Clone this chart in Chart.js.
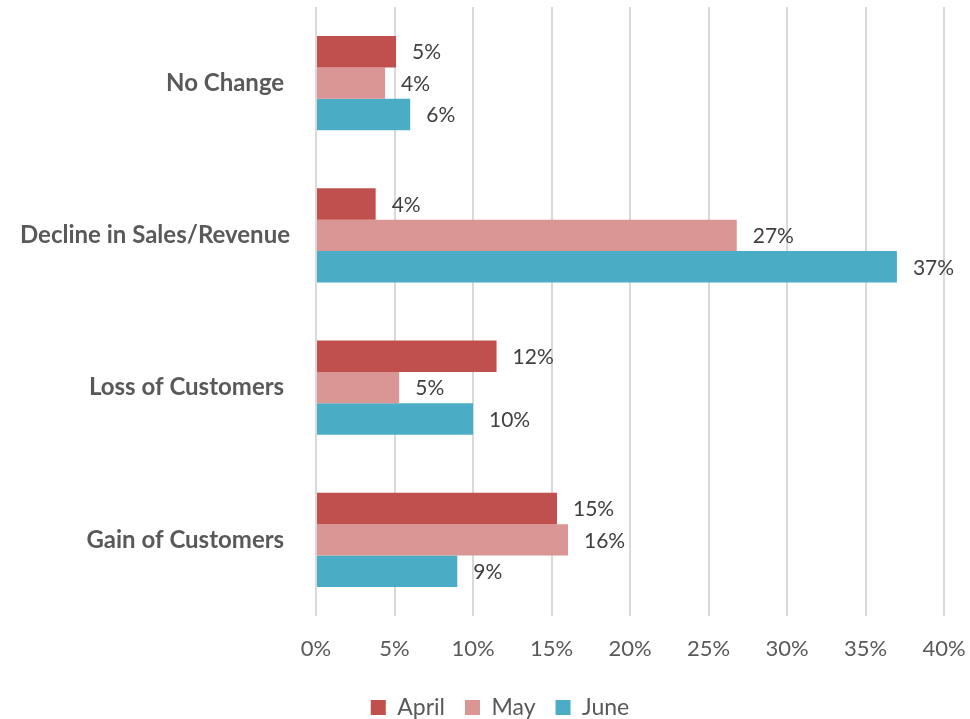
<!DOCTYPE html>
<html>
<head>
<meta charset="utf-8">
<script src="https://cdn.jsdelivr.net/npm/chart.js@4.4.0/dist/chart.umd.min.js"></script>
<style>
html,body{margin:0;padding:0;background:#fff;}
#wrap{width:970px;height:719px;position:relative;}
</style>
</head>
<body>
<div id="wrap"><canvas id="c"></canvas></div>
<script>
const categories = ['No Change ', 'Decline in Sales/Revenue', 'Loss of Customers ', 'Gain of Customers '];
const april = [5.1, 3.8, 11.5, 15.35];
const may = [4.4, 26.8, 5.3, 16.05];
const june = [6.0, 37.0, 10.0, 9.0];
const seriesNames = ['April', 'May', 'June'];
const xTicks = [0, 5, 10, 15, 20, 25, 30, 35, 40];

const FONT = 'Lato, "Liberation Sans", sans-serif';

const dataLabels = {
  id: 'dataLabels',
  afterDatasetsDraw(chart) {
    const ctx = chart.ctx;
    ctx.save();
    ctx.font = '21px ' + FONT;
    ctx.fillStyle = '#404040';
    ctx.textAlign = 'left';
    ctx.textBaseline = 'middle';
    chart.data.datasets.forEach((ds, i) => {
      const meta = chart.getDatasetMeta(i);
      meta.data.forEach((bar, j) => {
        ctx.fillText(Math.round(ds.data[j]) + '%', bar.x + 16, bar.y + 1);
      });
    });
    ctx.restore();
  }
};

const legendShift = {
  id: 'legendShift',
  afterLayout(chart) {
    const lg = chart.legend;
    if (!lg) return;
    const dx = 28, dy = 10;
    lg.left += dx; lg.right += dx;
    lg.top += dy; lg.bottom += dy;
  }
};

new Chart(document.getElementById('c'), {
  type: 'bar',
  data: {
    labels: categories,
    datasets: [
      { label: seriesNames[0], data: april, backgroundColor: '#C0504D' },
      { label: seriesNames[1], data: may, backgroundColor: '#D99694' },
      { label: seriesNames[2], data: june, backgroundColor: '#4BACC6' }
    ]
  },
  options: {
    indexAxis: 'y',
    responsive: true,
    maintainAspectRatio: false,
    animation: false,
    layout: { padding: { top: 7, right: 26, left: 0, bottom: 0 } },
    datasets: { bar: { categoryPercentage: 0.62, barPercentage: 1.0 } },
    scales: {
      x: {
        min: 0, max: 40,
        afterBuildTicks: s => { s.ticks = xTicks.map(v => ({ value: v })); },
        afterFit: s => { s.height = 50; s.paddingLeft = 0; s.paddingRight = 0; },
        grid: { color: '#D9D9D9', lineWidth: 2, drawTicks: false },
        border: { display: false },
        ticks: { callback: v => v + '%', color: '#595959', font: { family: FONT, size: 22 }, padding: 20 }
      },
      y: {
        grid: { display: false, drawTicks: false },
        border: { display: false },
        afterFit: s => { s.width = 316; s.paddingTop = 0; s.paddingBottom = 0; },
        ticks: { color: '#595959', font: { family: FONT, size: 24, weight: 'bold' }, padding: 26 }
      }
    },
    plugins: {
      legend: {
        position: 'bottom',
        labels: { color: '#595959', font: { family: FONT, size: 23 }, boxWidth: 15, boxHeight: 15, padding: 20 }
      },
      tooltip: { enabled: false }
    }
  },
  plugins: [dataLabels, legendShift]
});
</script>
</body>
</html>
